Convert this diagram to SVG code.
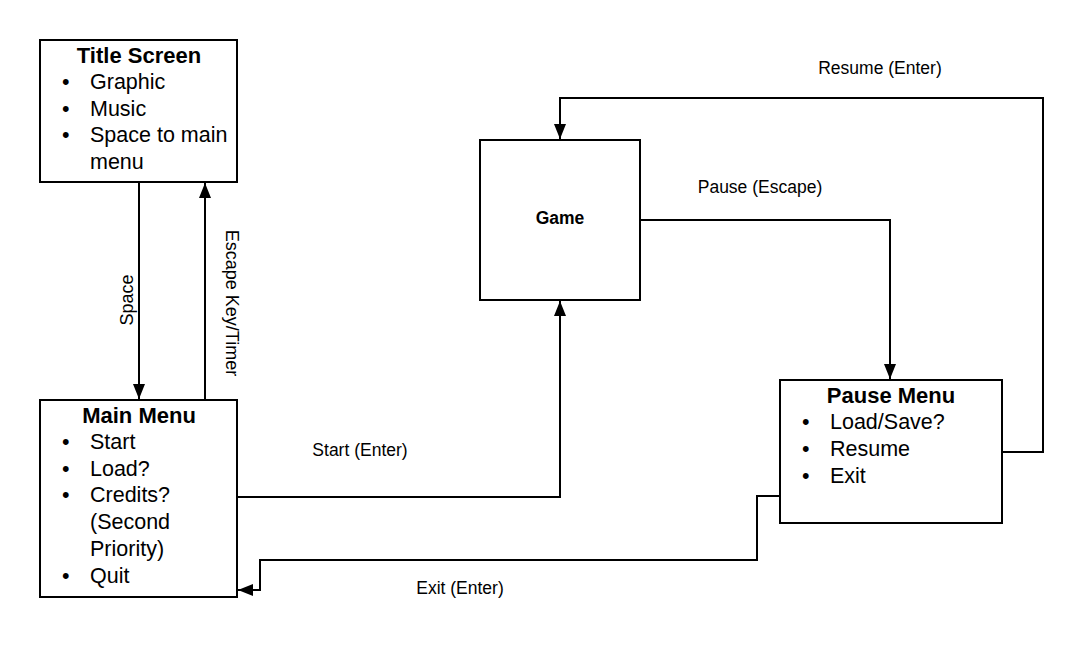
<svg xmlns="http://www.w3.org/2000/svg" width="1083" height="660" viewBox="0 0 1083 660">
<style>
.box{fill:#fff;stroke:#000;stroke-width:2}
.h{font-family:"Liberation Sans",Arial,sans-serif;font-size:22px;font-weight:bold;text-anchor:middle;fill:#000}
.t{font-family:"Liberation Sans",Arial,sans-serif;font-size:21.5px;fill:#000}
.l{font-family:"Liberation Sans",Arial,sans-serif;font-size:17.5px;fill:#000}
.c{fill:none;stroke:#000;stroke-width:2}
</style>
<defs>
<marker id="b" viewBox="0 0 15 12" refX="15" refY="6" markerWidth="15" markerHeight="12" markerUnits="userSpaceOnUse" orient="auto">
<path d="M0,0 L15,6 L0,12 Z" fill="#000"/>
</marker>
</defs>
<rect width="1083" height="660" fill="#fff"/>
<g id="connectors">
<path class="c" d="M139,182 V399" marker-end="url(#b)"/>
<path class="c" d="M205,400 V183" marker-end="url(#b)"/>
<path class="c" d="M237,497 H560 V301" marker-end="url(#b)"/>
<path class="c" d="M640,220 H890 V379" marker-end="url(#b)"/>
<path class="c" d="M1002,452 H1043 V98 H560 V139" marker-end="url(#b)"/>
<path class="c" d="M780,496 H757 V560 H260 V590 H238" marker-end="url(#b)"/>
<text class="l" x="880" y="74" text-anchor="middle">Resume (Enter)</text>
<text class="l" x="760" y="193" text-anchor="middle">Pause (Escape)</text>
<text class="l" x="360" y="456" text-anchor="middle">Start (Enter)</text>
<text class="l" x="460" y="594" text-anchor="middle">Exit (Enter)</text>
<text class="l" transform="translate(133,300) rotate(-90)" text-anchor="middle" style="font-size:18px">Space</text>
<text class="l" transform="translate(226,303) rotate(90)" text-anchor="middle" style="font-size:18px">Escape Key/Timer</text>
</g>
<g id="title-screen">
<rect class="box" x="40" y="40" width="197" height="142"/>
<text class="h" x="139" y="63">Title Screen</text>
<text class="t" x="62" y="89">•</text><text class="t" x="90" y="89">Graphic</text>
<text class="t" x="62" y="116">•</text><text class="t" x="90" y="116">Music</text>
<text class="t" x="62" y="142">•</text><text class="t" x="90" y="142">Space to main</text>
<text class="t" x="90" y="169">menu</text>
</g>
<g id="main-menu">
<rect class="box" x="40" y="400" width="197" height="197"/>
<text class="h" x="139" y="423">Main Menu</text>
<text class="t" x="62" y="449">•</text><text class="t" x="90" y="449">Start</text>
<text class="t" x="62" y="476">•</text><text class="t" x="90" y="476">Load?</text>
<text class="t" x="62" y="502">•</text><text class="t" x="90" y="502">Credits?</text>
<text class="t" x="90" y="529">(Second</text>
<text class="t" x="90" y="556">Priority)</text>
<text class="t" x="62" y="583">•</text><text class="t" x="90" y="583">Quit</text>
</g>
<g id="game">
<rect class="box" x="480" y="140" width="160" height="160"/>
<text class="h" x="560" y="224" style="font-size:17.5px">Game</text>
</g>
<g id="pause-menu">
<rect class="box" x="780" y="380" width="222" height="143"/>
<text class="h" x="891" y="403">Pause Menu</text>
<text class="t" x="802" y="429">•</text><text class="t" x="830" y="429">Load/Save?</text>
<text class="t" x="802" y="456">•</text><text class="t" x="830" y="456">Resume</text>
<text class="t" x="802" y="483">•</text><text class="t" x="830" y="483">Exit</text>
</g>
</svg>
